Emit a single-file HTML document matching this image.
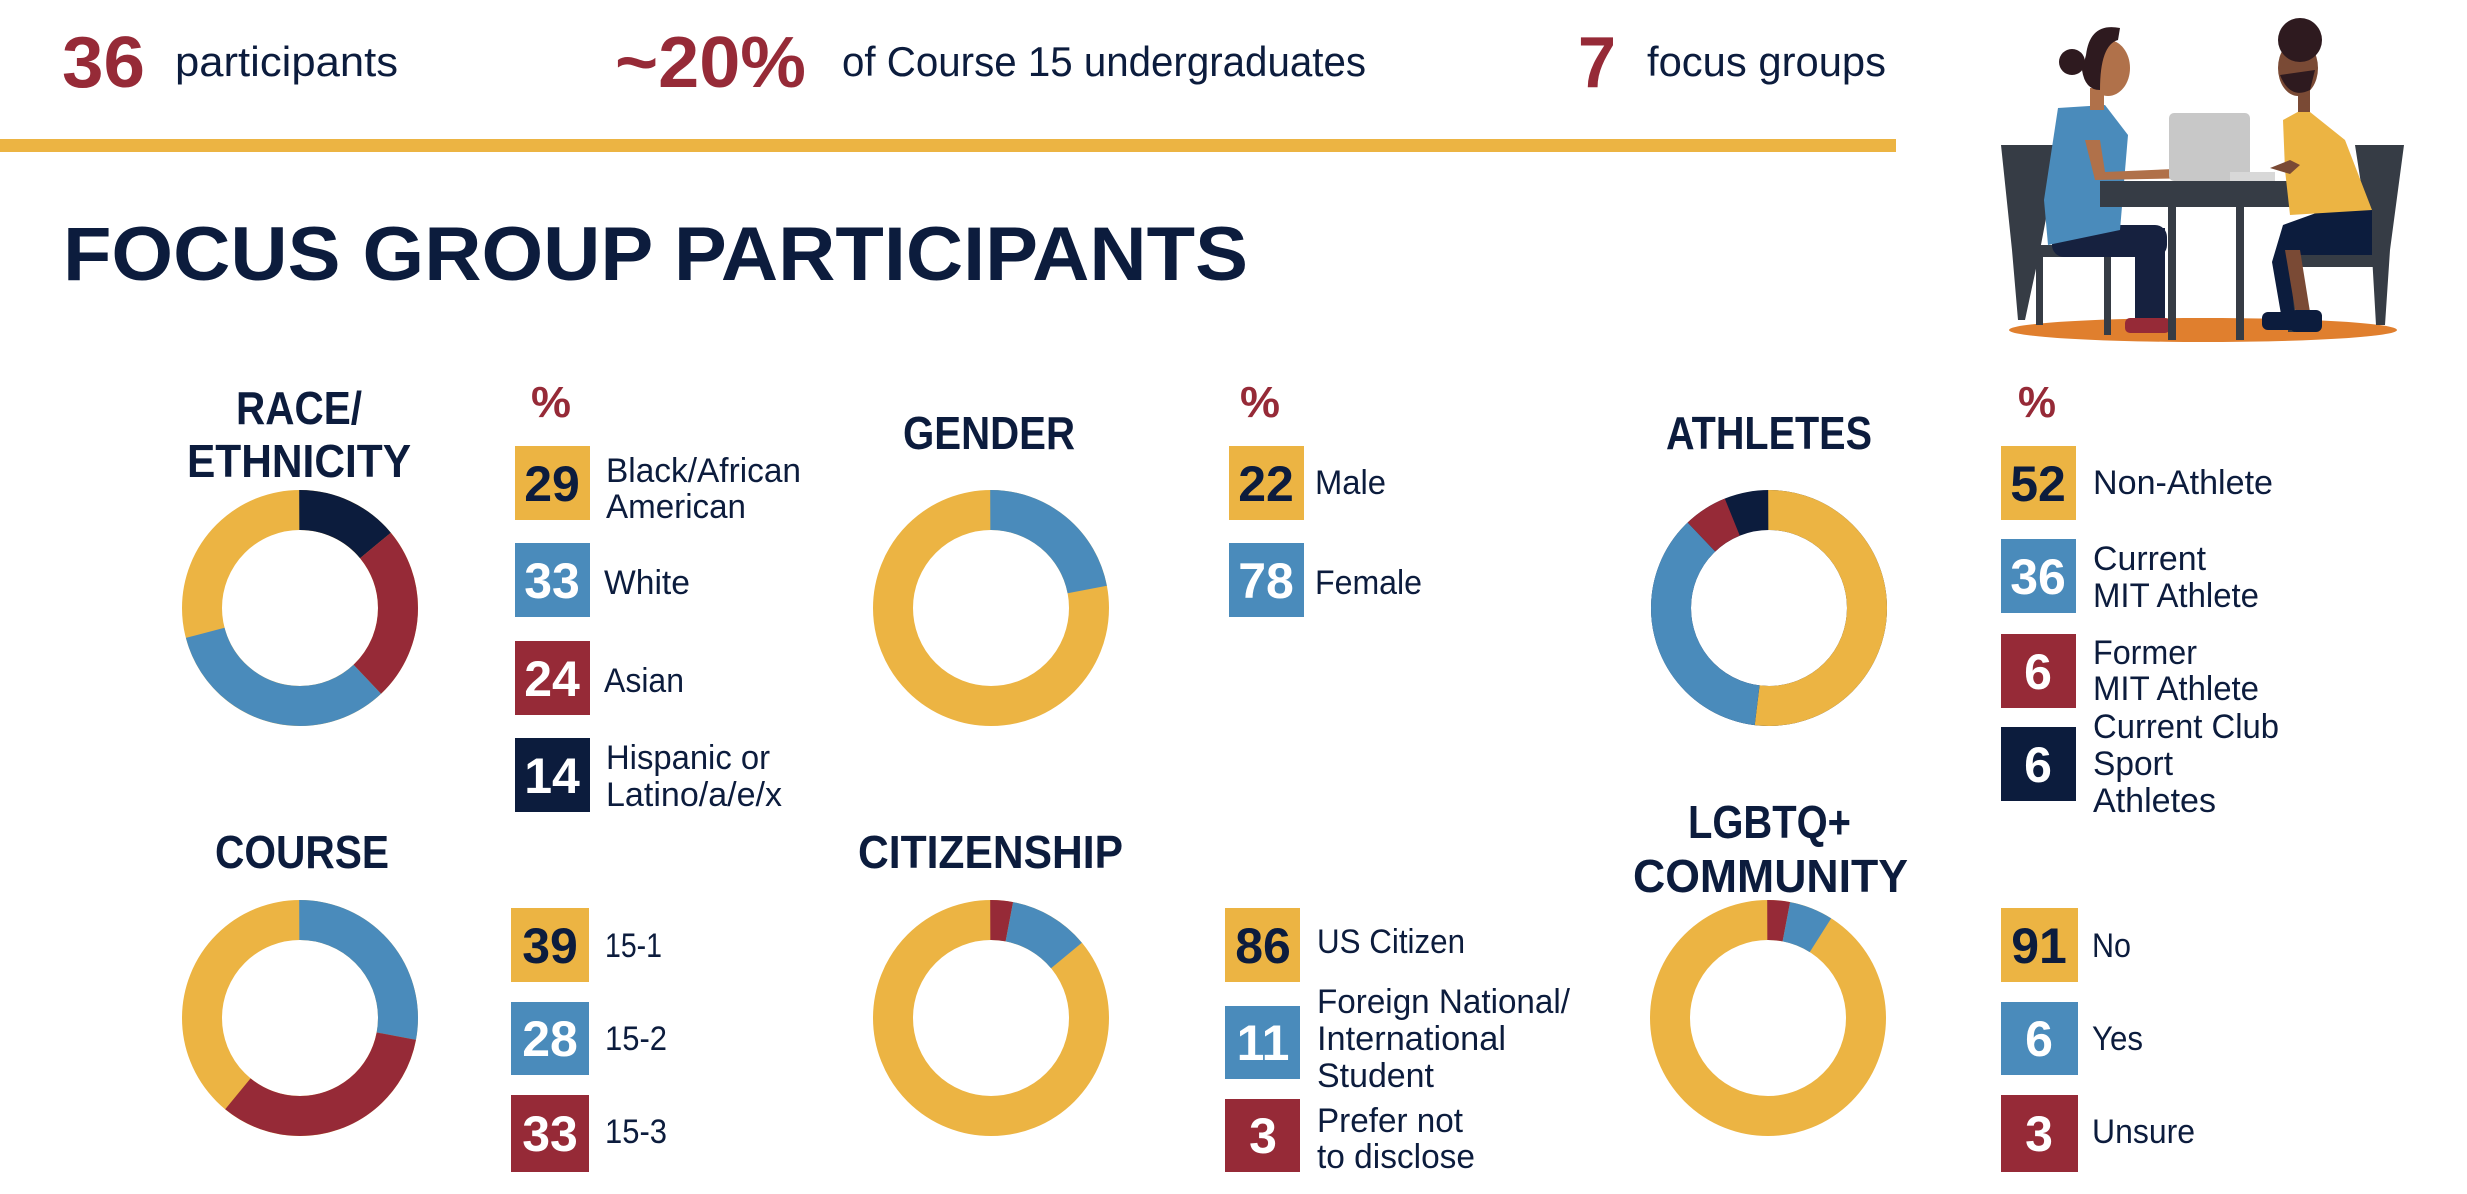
<!DOCTYPE html>
<html><head><meta charset="utf-8"><style>
html,body{margin:0;padding:0;background:#fff;}
svg{display:block;}
text{font-family:"Liberation Sans",sans-serif;}
.h{font-weight:bold;font-size:46px;fill:#0c1c3d;}
.l{font-size:34px;fill:#0c1c3d;}
.n{font-weight:bold;font-size:50px;text-anchor:middle;}
.p{font-weight:bold;font-size:44px;fill:#962a37;}
</style></head><body>
<svg width="2467" height="1194" viewBox="0 0 2467 1194" xmlns="http://www.w3.org/2000/svg">
<rect width="2467" height="1194" fill="#fff"/>
<text x="62" y="87" font-size="72" font-weight="bold" fill="#962a37" textLength="83" lengthAdjust="spacingAndGlyphs">36</text>
<text x="175" y="76" font-size="42" fill="#0c1c3d" textLength="223" lengthAdjust="spacingAndGlyphs">participants</text>
<text x="615" y="87" font-size="72" font-weight="bold" fill="#962a37" textLength="191" lengthAdjust="spacingAndGlyphs">~20%</text>
<text x="842" y="76" font-size="42" fill="#0c1c3d" textLength="524" lengthAdjust="spacingAndGlyphs">of Course 15 undergraduates</text>
<text x="1578" y="87" font-size="72" font-weight="bold" fill="#962a37" textLength="38" lengthAdjust="spacingAndGlyphs">7</text>
<text x="1647" y="76" font-size="42" fill="#0c1c3d" textLength="239" lengthAdjust="spacingAndGlyphs">focus groups</text>
<rect x="0" y="139" width="1896" height="13" fill="#ecb443"/>
<text x="63" y="280" font-size="76" font-weight="bold" fill="#0c1c3d" textLength="1185" lengthAdjust="spacingAndGlyphs">FOCUS GROUP PARTICIPANTS</text>

<!-- illustration -->
<ellipse cx="2203" cy="330" rx="194" ry="12" fill="#e07f2e"/>
<polygon points="2001,145 2060,145 2040,250 2025,320 2018,320 2012,250" fill="#363c45"/>
<rect x="2030" y="245" width="90" height="12" fill="#363c45"/>
<rect x="2036" y="255" width="7" height="70" fill="#363c45"/>
<rect x="2104" y="255" width="7" height="80" fill="#363c45"/>
<polygon points="2355,145 2404,145 2390,250 2385,325 2376,325 2372,255" fill="#363c45"/>
<rect x="2280" y="255" width="100" height="12" fill="#363c45"/>
<rect x="2288" y="262" width="7" height="70" fill="#363c45"/>
<rect x="2052" y="225" width="115" height="32" rx="12" fill="#16213f"/>
<rect x="2135" y="228" width="30" height="95" fill="#16213f"/>
<rect x="2125" y="318" width="45" height="15" rx="5" fill="#962a37"/>
<path d="M2058,108 L2105,105 L2128,135 L2120,230 L2048,245 L2044,200 Z" fill="#4a8bbb"/>
<rect x="2090" y="88" width="14" height="22" fill="#b0714a"/>
<ellipse cx="2108" cy="68" rx="22" ry="28" fill="#b0714a"/>
<path d="M2086,55 Q2090,22 2120,28 L2118,40 Q2100,45 2100,90 Q2085,90 2082,70 Z" fill="#2e1a1f"/>
<circle cx="2072" cy="62" r="13" fill="#2e1a1f"/>
<path d="M2085,140 L2095,180 L2200,178 L2198,168 L2105,172 L2100,140 Z" fill="#b0714a"/>
<rect x="2169" y="113" width="81" height="68" rx="5" fill="#c8c8c8"/>
<rect x="2230" y="172" width="45" height="10" fill="#d8d8d8"/>
<rect x="2100" y="181" width="219" height="26" fill="#363c45"/>
<rect x="2168" y="205" width="8" height="135" fill="#363c45"/>
<rect x="2236" y="205" width="8" height="135" fill="#363c45"/>
<path d="M2283,225 L2330,208 L2372,210 L2372,255 L2298,255 L2290,265 L2295,320 L2282,320 L2272,262 Z" fill="#0c1c3d"/>
<path d="M2285,250 L2300,250 L2310,312 L2296,315 Z" fill="#7a4a35"/>
<rect x="2262" y="312" width="40" height="18" rx="6" fill="#0c1c3d"/>
<rect x="2290" y="310" width="32" height="22" rx="6" fill="#0c1c3d"/>
<path d="M2283,120 L2305,108 L2345,140 L2372,210 L2290,215 L2285,170 Z" fill="#ecb443"/>
<rect x="2298" y="90" width="12" height="22" fill="#7a4a35"/>
<ellipse cx="2298" cy="68" rx="20" ry="28" fill="#7a4a35"/>
<circle cx="2300" cy="40" r="22" fill="#2e1a1f"/>
<path d="M2280,75 Q2290,100 2310,90 L2315,70 Z" fill="#2e1a1f"/>
<path d="M2290,160 L2270,168 L2290,174 L2300,165 Z" fill="#7a4a35"/>

<!-- donuts -->
<g fill="none" stroke-width="40">
 <g transform="rotate(-90 300 608)">
  <circle cx="300" cy="608" r="98" stroke="#ecb443"/>
  <circle cx="300" cy="608" r="98" pathLength="100" stroke="#0c1c3d" stroke-dasharray="14 86"/>
  <circle cx="300" cy="608" r="98" pathLength="100" stroke="#962a37" stroke-dasharray="0 14 24 62"/>
  <circle cx="300" cy="608" r="98" pathLength="100" stroke="#4a8bbb" stroke-dasharray="0 38 33 29"/>
 </g>
 <g transform="rotate(-90 991 608)">
  <circle cx="991" cy="608" r="98" stroke="#ecb443"/>
  <circle cx="991" cy="608" r="98" pathLength="100" stroke="#4a8bbb" stroke-dasharray="22 78"/>
 </g>
 <g transform="rotate(-90 1769 608)">
  <circle cx="1769" cy="608" r="98" stroke="#0c1c3d"/>
  <circle cx="1769" cy="608" r="98" pathLength="100" stroke="#ecb443" stroke-dasharray="52 48"/>
  <circle cx="1769" cy="608" r="98" pathLength="100" stroke="#4a8bbb" stroke-dasharray="0 52 36 12"/>
  <circle cx="1769" cy="608" r="98" pathLength="100" stroke="#962a37" stroke-dasharray="0 88 6 6"/>
 </g>
 <g transform="rotate(-90 300 1018)">
  <circle cx="300" cy="1018" r="98" stroke="#ecb443"/>
  <circle cx="300" cy="1018" r="98" pathLength="100" stroke="#4a8bbb" stroke-dasharray="28 72"/>
  <circle cx="300" cy="1018" r="98" pathLength="100" stroke="#962a37" stroke-dasharray="0 28 33 39"/>
 </g>
 <g transform="rotate(-90 991 1018)">
  <circle cx="991" cy="1018" r="98" stroke="#ecb443"/>
  <circle cx="991" cy="1018" r="98" pathLength="100" stroke="#962a37" stroke-dasharray="3 97"/>
  <circle cx="991" cy="1018" r="98" pathLength="100" stroke="#4a8bbb" stroke-dasharray="0 3 11 86"/>
 </g>
 <g transform="rotate(-90 1768 1018)">
  <circle cx="1768" cy="1018" r="98" stroke="#ecb443"/>
  <circle cx="1768" cy="1018" r="98" pathLength="100" stroke="#962a37" stroke-dasharray="3 97"/>
  <circle cx="1768" cy="1018" r="98" pathLength="100" stroke="#4a8bbb" stroke-dasharray="0 3 6 91"/>
 </g>
</g>

<text class="h" x="236" y="424" textLength="126" lengthAdjust="spacingAndGlyphs">RACE/</text>
<text class="h" x="187" y="477" textLength="224" lengthAdjust="spacingAndGlyphs">ETHNICITY</text>
<text class="h" x="903" y="449" textLength="172" lengthAdjust="spacingAndGlyphs">GENDER</text>
<text class="h" x="1666" y="449" textLength="206" lengthAdjust="spacingAndGlyphs">ATHLETES</text>
<text class="h" x="215" y="868" textLength="174" lengthAdjust="spacingAndGlyphs">COURSE</text>
<text class="h" x="858" y="868" textLength="265" lengthAdjust="spacingAndGlyphs">CITIZENSHIP</text>
<text class="h" x="1688" y="838" textLength="163" lengthAdjust="spacingAndGlyphs">LGBTQ+</text>
<text class="h" x="1633" y="892" textLength="275" lengthAdjust="spacingAndGlyphs">COMMUNITY</text>

<text class="p" x="531" y="417" textLength="40" lengthAdjust="spacingAndGlyphs">%</text>
<text class="p" x="1240" y="417" textLength="40" lengthAdjust="spacingAndGlyphs">%</text>
<text class="p" x="2018" y="417" textLength="38" lengthAdjust="spacingAndGlyphs">%</text>

<rect x="515" y="446" width="75" height="74" fill="#ecb443"/><text class="n" x="552" y="501" fill="#0c1c3d">29</text>
<rect x="515" y="543" width="75" height="74" fill="#4a8bbb"/><text class="n" x="552" y="598" fill="#fff">33</text>
<rect x="515" y="641" width="75" height="74" fill="#962a37"/><text class="n" x="552" y="696" fill="#fff">24</text>
<rect x="515" y="738" width="75" height="74" fill="#0c1c3d"/><text class="n" x="552" y="793" fill="#fff">14</text>
<text class="l" x="606" y="482" textLength="195" lengthAdjust="spacingAndGlyphs">Black/African</text>
<text class="l" x="606" y="518" textLength="140" lengthAdjust="spacingAndGlyphs">American</text>
<text class="l" x="604" y="594" textLength="86" lengthAdjust="spacingAndGlyphs">White</text>
<text class="l" x="604" y="692" textLength="80" lengthAdjust="spacingAndGlyphs">Asian</text>
<text class="l" x="606" y="769" textLength="164" lengthAdjust="spacingAndGlyphs">Hispanic or</text>
<text class="l" x="606" y="806" textLength="176" lengthAdjust="spacingAndGlyphs">Latino/a/e/x</text>

<rect x="1229" y="446" width="75" height="74" fill="#ecb443"/><text class="n" x="1266" y="501" fill="#0c1c3d">22</text>
<rect x="1229" y="543" width="75" height="74" fill="#4a8bbb"/><text class="n" x="1266" y="598" fill="#fff">78</text>
<text class="l" x="1315" y="494" textLength="71" lengthAdjust="spacingAndGlyphs">Male</text>
<text class="l" x="1315" y="594" textLength="107" lengthAdjust="spacingAndGlyphs">Female</text>

<rect x="2001" y="446" width="75" height="74" fill="#ecb443"/><text class="n" x="2038" y="501" fill="#0c1c3d">52</text>
<rect x="2001" y="539" width="75" height="74" fill="#4a8bbb"/><text class="n" x="2038" y="594" fill="#fff">36</text>
<rect x="2001" y="634" width="75" height="74" fill="#962a37"/><text class="n" x="2038" y="689" fill="#fff">6</text>
<rect x="2001" y="727" width="75" height="74" fill="#0c1c3d"/><text class="n" x="2038" y="782" fill="#fff">6</text>
<text class="l" x="2093" y="494" textLength="180" lengthAdjust="spacingAndGlyphs">Non-Athlete</text>
<text class="l" x="2093" y="570" textLength="113" lengthAdjust="spacingAndGlyphs">Current</text>
<text class="l" x="2093" y="607" textLength="166" lengthAdjust="spacingAndGlyphs">MIT Athlete</text>
<text class="l" x="2093" y="664" textLength="104" lengthAdjust="spacingAndGlyphs">Former</text>
<text class="l" x="2093" y="700" textLength="166" lengthAdjust="spacingAndGlyphs">MIT Athlete</text>
<text class="l" x="2093" y="738" textLength="186" lengthAdjust="spacingAndGlyphs">Current Club</text>
<text class="l" x="2093" y="775" textLength="80" lengthAdjust="spacingAndGlyphs">Sport</text>
<text class="l" x="2093" y="812" textLength="123" lengthAdjust="spacingAndGlyphs">Athletes</text>

<rect x="511" y="908" width="78" height="74" fill="#ecb443"/><text class="n" x="550" y="963" fill="#0c1c3d">39</text>
<rect x="511" y="1002" width="78" height="73" fill="#4a8bbb"/><text class="n" x="550" y="1056" fill="#fff">28</text>
<rect x="511" y="1095" width="78" height="77" fill="#962a37"/><text class="n" x="550" y="1151" fill="#fff">33</text>
<text class="l" x="605" y="957" textLength="57" lengthAdjust="spacingAndGlyphs">15-1</text>
<text class="l" x="605" y="1050" textLength="62" lengthAdjust="spacingAndGlyphs">15-2</text>
<text class="l" x="605" y="1143" textLength="62" lengthAdjust="spacingAndGlyphs">15-3</text>

<rect x="1225" y="908" width="75" height="74" fill="#ecb443"/><text class="n" x="1263" y="963" fill="#0c1c3d">86</text>
<rect x="1225" y="1006" width="75" height="73" fill="#4a8bbb"/><text class="n" x="1263" y="1060" fill="#fff">11</text>
<rect x="1225" y="1099" width="75" height="73" fill="#962a37"/><text class="n" x="1263" y="1153" fill="#fff">3</text>
<text class="l" x="1317" y="953" textLength="148" lengthAdjust="spacingAndGlyphs">US Citizen</text>
<text class="l" x="1317" y="1013" textLength="253" lengthAdjust="spacingAndGlyphs">Foreign National/</text>
<text class="l" x="1317" y="1050" textLength="189" lengthAdjust="spacingAndGlyphs">International</text>
<text class="l" x="1317" y="1087" textLength="117" lengthAdjust="spacingAndGlyphs">Student</text>
<text class="l" x="1317" y="1132" textLength="146" lengthAdjust="spacingAndGlyphs">Prefer not</text>
<text class="l" x="1317" y="1168" textLength="158" lengthAdjust="spacingAndGlyphs">to disclose</text>

<rect x="2001" y="908" width="77" height="74" fill="#ecb443"/><text class="n" x="2039" y="963" fill="#0c1c3d">91</text>
<rect x="2001" y="1002" width="77" height="73" fill="#4a8bbb"/><text class="n" x="2039" y="1056" fill="#fff">6</text>
<rect x="2001" y="1095" width="77" height="77" fill="#962a37"/><text class="n" x="2039" y="1151" fill="#fff">3</text>
<text class="l" x="2092" y="957" textLength="39" lengthAdjust="spacingAndGlyphs">No</text>
<text class="l" x="2092" y="1050" textLength="51" lengthAdjust="spacingAndGlyphs">Yes</text>
<text class="l" x="2092" y="1143" textLength="103" lengthAdjust="spacingAndGlyphs">Unsure</text>
</svg>
</body></html>
